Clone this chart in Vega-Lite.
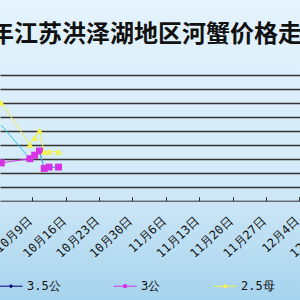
{
  "$schema": "https://vega.github.io/schema/vega-lite/v6.json",
  "width": 300,
  "height": 300,
  "autosize": {"type": "none"},
  "padding": 0,
  "background": "#d6ecf9",
  "config": {
    "view": {
      "stroke": null,
      "fill": {"gradient": "linear", "x1": 0, "y1": 0, "x2": 0, "y2": 1,
        "stops": [{"offset": 0, "color": "#e4f3fc"}, {"offset": 0.6, "color": "#d3eaf8"}, {"offset": 1, "color": "#a6d3ed"}]}
    }
  },
  "title": {
    "text": "年江苏洪泽湖地区河蟹价格走势",
    "anchor": "start",
    "frame": "group",
    "orient": "top",
    "offset": -66,
    "baseline": "alphabetic",
    "dx": -10,
    "font": "Noto Sans CJK SC",
    "fontSize": 24,
    "fontWeight": "bold",
    "color": "#111111"
  },
  "data": {
    "values": [
      {"date": "2009-10-02T12:00:00", "s": "3公", "price": 27},
      {"date": "2009-10-08T12:00:00", "s": "3公", "price": 30},
      {"date": "2009-10-09T12:00:00", "s": "3公", "price": 32.5},
      {"date": "2009-10-10T12:00:00", "s": "3公", "price": 35.5},
      {"date": "2009-10-11T12:00:00", "s": "3公", "price": 23},
      {"date": "2009-10-12T12:00:00", "s": "3公", "price": 24},
      {"date": "2009-10-14T12:00:00", "s": "3公", "price": 24},
      {"date": "2009-10-02T12:00:00", "s": "4公", "price": 54},
      {"date": "2009-10-08T12:00:00", "s": "4公", "price": 30},
      {"date": "2009-10-09T12:00:00", "s": "4公", "price": 32.5},
      {"date": "2009-10-10T12:00:00", "s": "4公", "price": 35.5},
      {"date": "2009-10-11T12:00:00", "s": "4公", "price": 23},
      {"date": "2009-10-12T12:00:00", "s": "4公", "price": 24},
      {"date": "2009-10-14T12:00:00", "s": "4公", "price": 24},
      {"date": "2009-10-02T12:00:00", "s": "2.5母", "price": 70},
      {"date": "2009-10-08T12:00:00", "s": "2.5母", "price": 40},
      {"date": "2009-10-09T12:00:00", "s": "2.5母", "price": 45},
      {"date": "2009-10-10T12:00:00", "s": "2.5母", "price": 50},
      {"date": "2009-10-11T12:00:00", "s": "2.5母", "price": 35},
      {"date": "2009-10-12T12:00:00", "s": "2.5母", "price": 35},
      {"date": "2009-10-14T12:00:00", "s": "2.5母", "price": 35}
    ]
  },
  "encoding": {
    "x": {
      "field": "date",
      "type": "temporal",
      "scale": {
        "domain": [{"year": 2009, "month": 10, "date": 2, "hours": 5, "minutes": 30}, {"year": 2009, "month": 12, "date": 12}],
        "range": [0, 337.6]
      },
      "axis": {
        "title": null,
        "values": [
          {"year": 2009, "month": 10, "date": 9},
          {"year": 2009, "month": 10, "date": 16},
          {"year": 2009, "month": 10, "date": 23},
          {"year": 2009, "month": 10, "date": 30},
          {"year": 2009, "month": 11, "date": 6},
          {"year": 2009, "month": 11, "date": 13},
          {"year": 2009, "month": 11, "date": 20},
          {"year": 2009, "month": 11, "date": 27},
          {"year": 2009, "month": 12, "date": 4},
          {"year": 2009, "month": 12, "date": 11}
        ],
        "format": "%-m月%-d日",
        "offset": -99.3,
        "grid": false,
        "domainColor": "#333333",
        "domainWidth": 1,
        "tickColor": "#333333",
        "tickSize": -4,
        "labelAngle": -43,
        "labelAlign": "right",
        "labelBaseline": "middle",
        "labelPadding": 22,
        "labelOffset": -2.5,
        "labelOverlap": false,
        "labelBound": false,
        "labelFlush": false,
        "labelFont": "DejaVu Sans Mono",
        "labelFontSize": 12,
        "labelColor": "#111111"
      }
    },
    "y": {
      "field": "price",
      "type": "quantitative",
      "scale": {"domain": [0, 90], "range": [200.7, 74.7]},
      "axis": {
        "values": [10, 20, 30, 40, 50, 60, 70, 80, 90],
        "grid": true,
        "gridColor": "#333333",
        "gridWidth": 1.3,
        "labels": false,
        "ticks": false,
        "domain": false,
        "title": null
      }
    },
    "color": {
      "field": "s",
      "type": "nominal",
      "scale": {
        "domain": ["3.5公", "3公", "2.5母", "4公"],
        "range": ["#000080", "#d633e6", "#f2f24a", "#33ccee"]
      },
      "legend": {
        "values": ["3.5公", "3公", "2.5母"],
        "title": null,
        "orient": "none",
        "legendX": -1,
        "legendY": 274.2,
        "direction": "horizontal",
        "columns": 3,
        "columnPadding": 50,
        "padding": 0,
        "symbolSize": 529,
        "labelOffset": 4,
        "labelFont": "DejaVu Sans Mono",
        "labelFontSize": 12,
        "labelColor": "#111111",
        "encode": {
          "symbols": {
            "update": {
              "shape": {"signal": "datum.value === '3.5公' ? 'M-1,0H1M0,-0.14L0.14,0L0,0.14L-0.14,0Z' : datum.value === '3公' ? 'M-1,0H1M-0.125,-0.125H0.125V0.125H-0.125Z' : 'M-1,0H1M0,-0.15L0.15,0.12H-0.15Z'"},
              "fill": {"signal": "scale('color', datum.value)"},
              "stroke": {"signal": "scale('color', datum.value)"},
              "strokeWidth": {"value": 1},
              "size": {"value": 529},
              "opacity": {"value": 1},
              "fillOpacity": {"value": 1},
              "strokeOpacity": {"value": 1}
            }
          }
        }
      }
    }
  },
  "layer": [
    {"mark": {"type": "line", "strokeWidth": 1}},
    {
      "transform": [{"filter": "datum.s !== '4公'"}],
      "mark": {"type": "point", "filled": true, "opacity": 1},
      "encoding": {
        "shape": {
          "field": "s",
          "type": "nominal",
          "scale": {"domain": ["3.5公", "3公", "2.5母"], "range": ["diamond", "square", "triangle-up"]},
          "legend": null
        },
        "size": {"value": 48}
      }
    }
  ]
}
